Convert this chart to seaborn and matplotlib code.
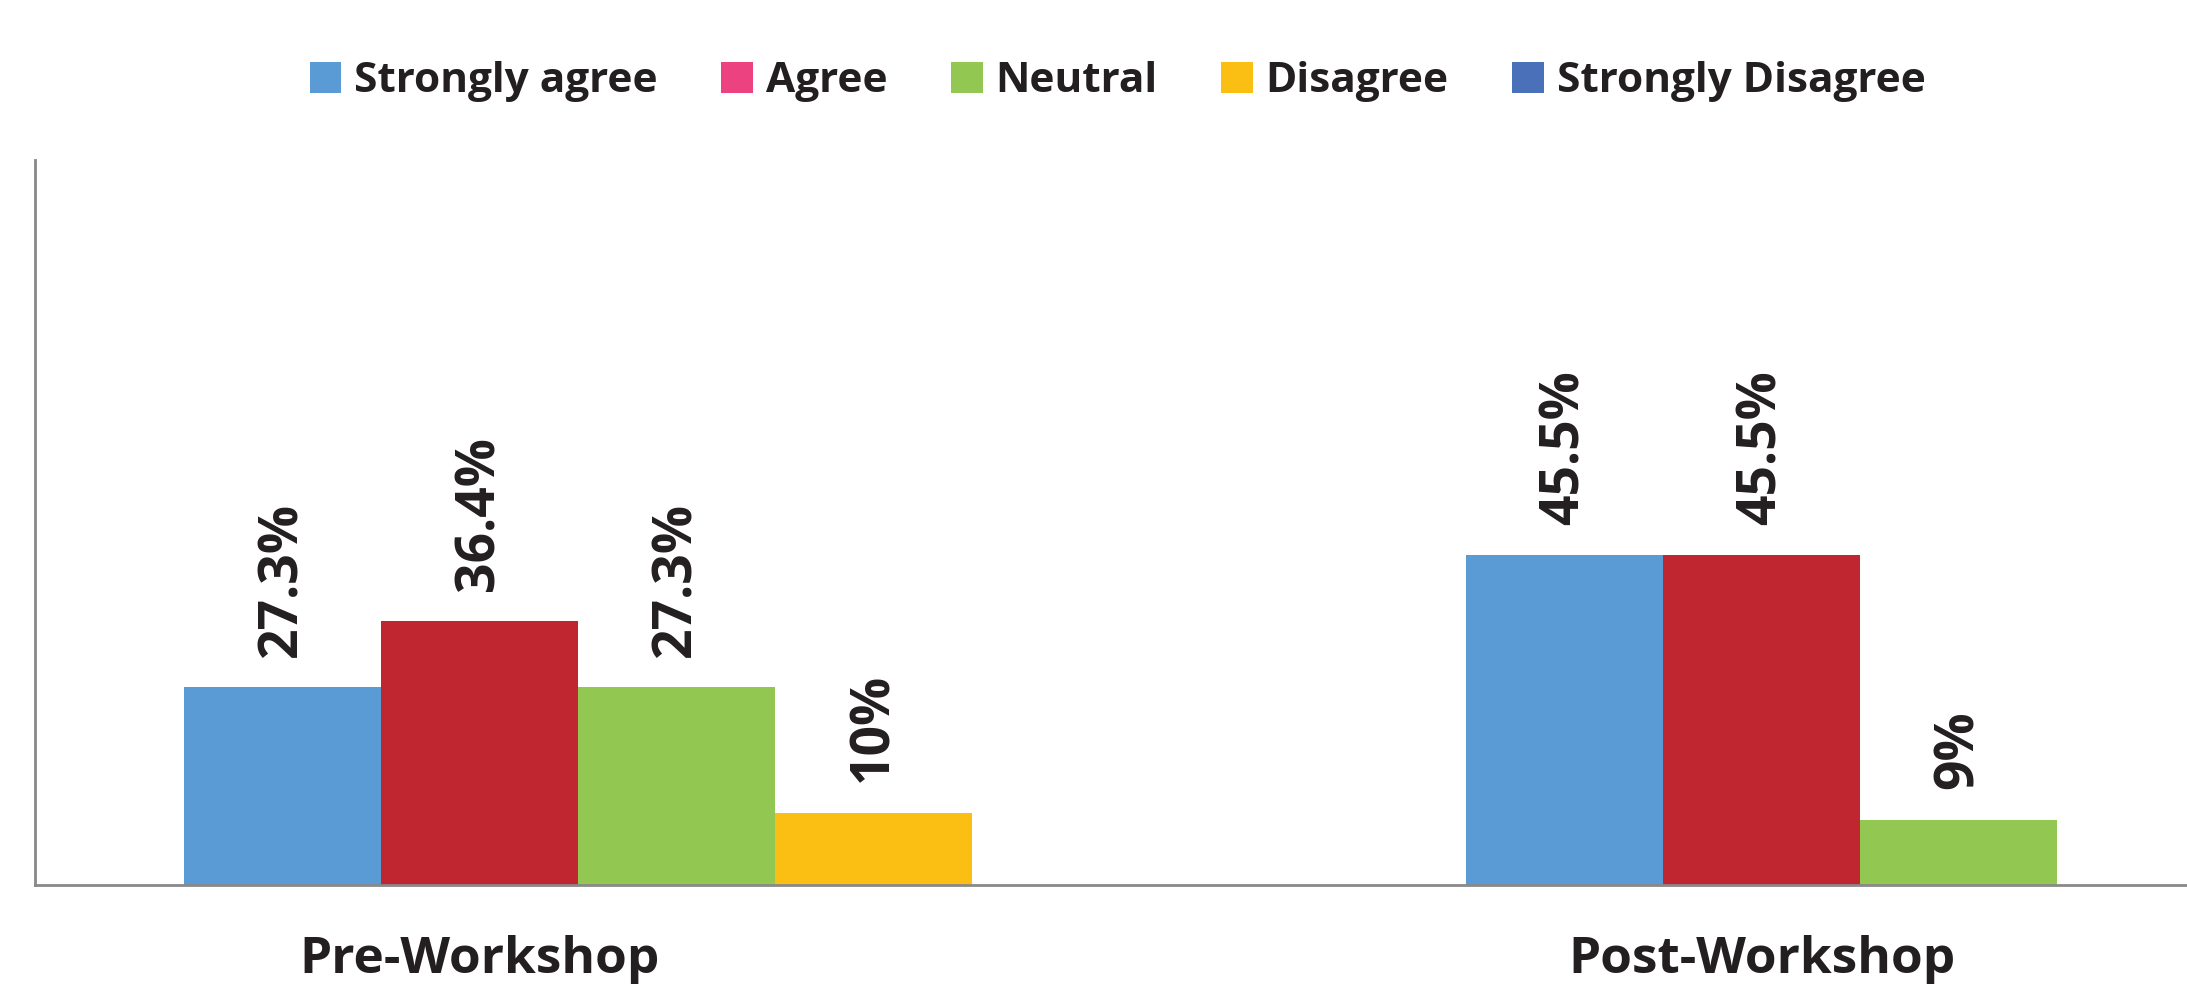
import matplotlib
matplotlib.use("Agg")
import matplotlib.pyplot as plt
from matplotlib.patches import Patch
import seaborn as sns
import pandas as pd

# Survey responses (% of participants) before and after the workshop
stages = ["Pre-Workshop", "Post-Workshop"]
responses = ["Strongly agree", "Agree", "Neutral", "Disagree", "Strongly Disagree"]
pre_values = [27.3, 36.4, 27.3, 10, 0]
post_values = [45.5, 45.5, 9, 0, 0]

bar_colors = ["#5B9BD5", "#C0262F", "#92C852", "#FBBE12", "#4A70BA"]
legend_colors = ["#5B9BD5", "#EC4380", "#92C852", "#FBBE12", "#4A70BA"]
text_color = "#231F20"

rows = []
for stage, vals in zip(stages, [pre_values, post_values]):
    for resp, v in zip(responses, vals):
        rows.append({"stage": stage, "response": resp, "pct": v})
df = pd.DataFrame(rows)

sns.set_theme(style="white")
plt.rcParams["font.family"] = ["Open Sans", "DejaVu Sans"]

fig = plt.figure(figsize=(21.87, 9.84), dpi=100)
ax = fig.add_axes([0.016, 0.1006, 0.984, 0.7368])

sns.barplot(data=df, x="stage", y="pct", hue="response", order=stages,
            hue_order=responses, palette=bar_colors, width=0.768,
            saturation=1, linewidth=0, ax=ax, legend=False)

ax.set_ylim(0, 100)
ax.set_xlim(-0.5, 1.178)
ax.set_xlabel("")
ax.set_ylabel("")
ax.set_yticks([])

for side in ["top", "right"]:
    ax.spines[side].set_visible(False)
for side in ["left", "bottom"]:
    ax.spines[side].set_color("#898989")
    ax.spines[side].set_linewidth(2)

# Value labels above each non-empty bar
for container in ax.containers:
    for bar in container:
        h = bar.get_height()
        if h <= 0:
            continue
        ax.annotate(f"{h:g}%", (bar.get_x() + bar.get_width() / 2, h),
                    xytext=(0, 22), textcoords="offset points",
                    rotation=90, ha="center", va="bottom",
                    fontsize=38.5, fontweight="bold", color=text_color)

# Stage labels sit under the centre of the first three bars of each group
n_stage = len(stages)
tick_pos = []
for g in range(n_stage):
    centers = [ax.containers[k][g].get_x() + ax.containers[k][g].get_width() / 2
               for k in range(3)]
    tick_pos.append(sum(centers) / 3)
ax.set_xticks(tick_pos)
ax.set_xticklabels(stages, fontsize=37, fontweight="bold", color=text_color)
ax.tick_params(axis="x", length=0, pad=36)

handles = [Patch(facecolor=c, edgecolor="none", label=r)
           for c, r in zip(legend_colors, responses)]
fig.legend(handles=handles, loc="center", bbox_to_anchor=(0.511, 0.917),
           ncol=5, frameon=False, handlelength=0.75, handleheight=0.75,
           handletextpad=0.3, columnspacing=1.5,
           prop={"family": ["Liberation Sans Narrow", "Open Sans"],
                 "weight": "bold", "size": 30.5})
for t in fig.legends[0].get_texts():
    t.set_color(text_color)

fig.savefig("out.png", dpi=100, facecolor="white")
